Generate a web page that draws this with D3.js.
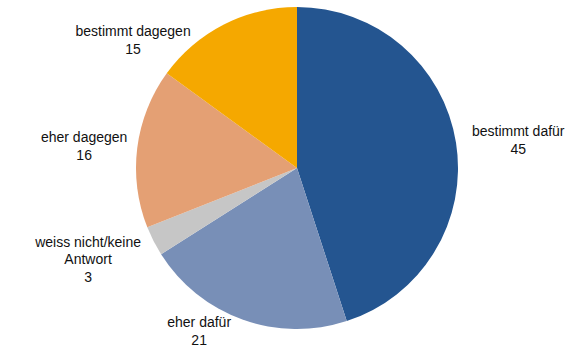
<!DOCTYPE html>
<html>
<head>
<meta charset="utf-8">
<script src="https://cdn.jsdelivr.net/npm/d3@7"></script>
<style>
  html, body { margin: 0; padding: 0; background: #fff; }
  svg { display: block; }
  text { font-family: "Liberation Sans", Arial, sans-serif; font-size: 14px; fill: #111; }
</style>
</head>
<body>
<svg id="chart" width="582" height="356"></svg>
<script>
// Data
const categories = ["bestimmt dafür", "eher dafür", "weiss nicht/keine Antwort", "eher dagegen", "bestimmt dagegen"];
const values = [45, 21, 3, 16, 15];
const labelLines = [["bestimmt dafür"], ["eher dafür"], ["weiss nicht/keine", "Antwort"], ["eher dagegen"], ["bestimmt dagegen"]];
const colors = ["#245590", "#788FB7", "#C6C6C6", "#E4A074", "#F5A800"];

// Layout (label placement: angle in degrees clockwise from top, radius from centre)
const labelPlacement = [
  { angle: 82.8, r: 223 },
  { angle: 211, r: 190 },
  { angle: 246.4, r: 228 },
  { angle: 275.9, r: 214 },
  { angle: 308, r: 208 }
];

const width = 582, height = 356;
const cx = 297, cy = 168, radius = 161;
const svg = d3.select("#chart");
const g = svg.append("g").attr("transform", `translate(${cx},${cy})`);

const data = categories.map((c, i) => ({ cat: c, value: values[i], lines: labelLines[i], color: colors[i], place: labelPlacement[i] }));

const pie = d3.pie().value(d => d.value).sort(null);
const arc = d3.arc().innerRadius(0).outerRadius(radius);
const arcs = pie(data);

g.selectAll("path.slice")
  .data(arcs)
  .join("path")
  .attr("class", "slice")
  .attr("d", arc)
  .attr("fill", d => d.data.color)
  .attr("stroke", "none");

const lineH = 17.5;
const labels = g.selectAll("text.label")
  .data(arcs)
  .join("text")
  .attr("class", "label")
  .attr("text-anchor", "middle")
  .each(function(d) {
    const p = d.data.place;
    const a = p.angle * Math.PI / 180;
    const x = Math.sin(a) * p.r;
    const y = -Math.cos(a) * p.r;
    const lines = d.data.lines.concat([String(d.data.value)]);
    const n = lines.length;
    const t = d3.select(this);
    lines.forEach((ln, i) => {
      t.append("tspan")
        .attr("x", x)
        .attr("y", y + (i - (n - 1) / 2) * lineH)
        .attr("dy", "0.35em")
        .text(ln);
    });
  });
</script>
</body>
</html>
